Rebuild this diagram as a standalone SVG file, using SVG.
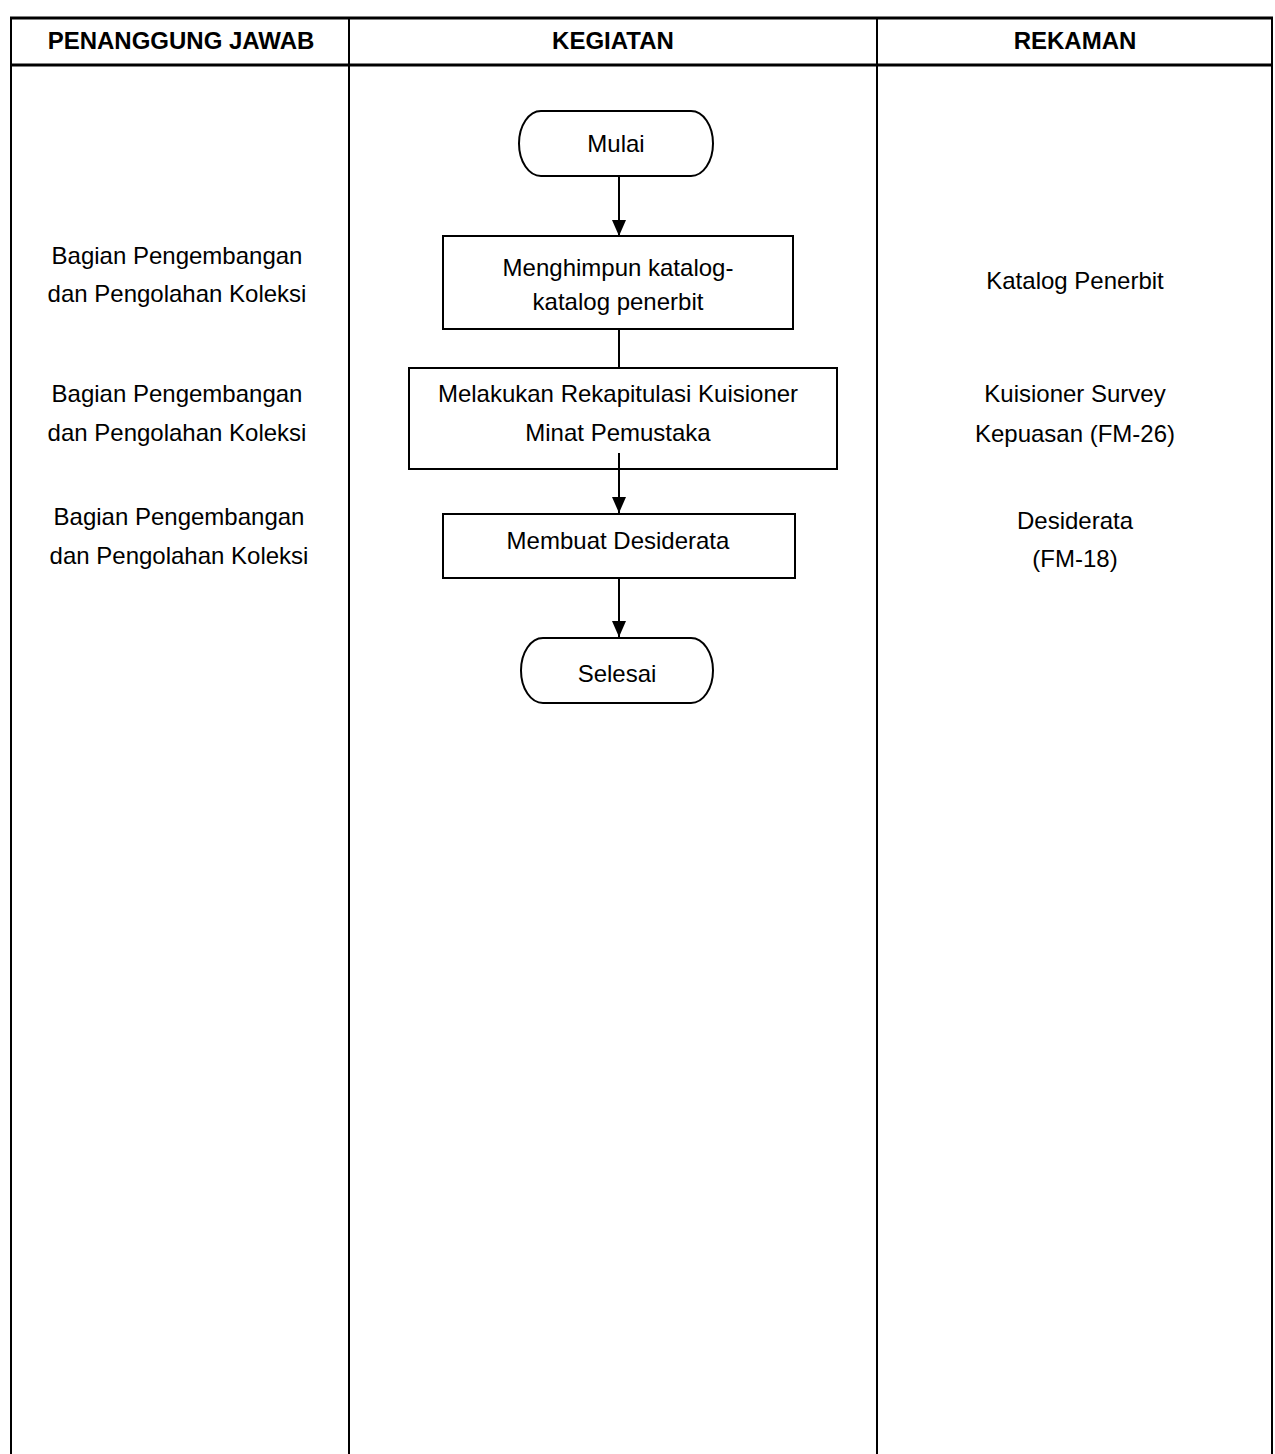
<svg xmlns="http://www.w3.org/2000/svg" width="1275" height="1454" viewBox="0 0 1275 1454">
<style>
.grid{stroke:#000;fill:none}
.hd{font-family:"Liberation Sans",Arial,sans-serif;font-weight:bold;font-size:24px;text-anchor:middle;fill:#000}
.tx{font-family:"Liberation Sans",Arial,sans-serif;font-size:24px;text-anchor:middle;fill:#000}
.shape{fill:#fff;stroke:#000;stroke-width:2}
.conn{stroke:#000;stroke-width:2;fill:none}
</style>
<defs>
<marker id="arr" viewBox="0 0 16 14" refX="16" refY="7" markerWidth="16" markerHeight="14" markerUnits="userSpaceOnUse" orient="auto">
<path d="M0,0 L16,7 L0,14 Z" fill="#000"/>
</marker>
</defs>
<rect width="1275" height="1454" fill="#fff"/>
<g id="table">
<line class="grid" x1="10" y1="18" x2="1273" y2="18" stroke-width="3"/>
<line class="grid" x1="10" y1="65" x2="1273" y2="65" stroke-width="3"/>
<line class="grid" x1="11" y1="17" x2="11" y2="1454" stroke-width="2"/>
<line class="grid" x1="349" y1="17" x2="349" y2="1454" stroke-width="2"/>
<line class="grid" x1="877" y1="17" x2="877" y2="1454" stroke-width="2"/>
<line class="grid" x1="1272" y1="17" x2="1272" y2="1454" stroke-width="2"/>
<text class="hd" x="181" y="49">PENANGGUNG JAWAB</text>
<text class="hd" x="613" y="49">KEGIATAN</text>
<text class="hd" x="1075" y="49">REKAMAN</text>
</g>
<g id="connectors">
<line class="conn" x1="619" y1="176" x2="619" y2="236" marker-end="url(#arr)"/>
<line class="conn" x1="619" y1="329" x2="619" y2="368"/>
<line class="conn" x1="619" y1="453" x2="619" y2="513" marker-end="url(#arr)"/>
<line class="conn" x1="619" y1="578" x2="619" y2="637" stroke-width="3" marker-end="url(#arr)"/>
</g>
<g id="mulai">
<path class="shape" stroke-width="1.5" d="M541,111 L691,111 A22,32.5 0 0 1 691,176 L541,176 A22,32.5 0 0 1 541,111 Z"/>
<text class="tx" x="616" y="152">Mulai</text>
</g>
<g id="menghimpun">
<rect class="shape" x="443" y="236" width="350" height="93"/>
<text class="tx" x="618" y="276">Menghimpun katalog-</text>
<text class="tx" x="618" y="310">katalog penerbit</text>
</g>
<g id="rekapitulasi">
<rect class="shape" x="409" y="368" width="428" height="101"/>
<text class="tx" x="618" y="402">Melakukan Rekapitulasi Kuisioner</text>
<text class="tx" x="618" y="441">Minat Pemustaka</text>
<line class="conn" x1="619" y1="453" x2="619" y2="469"/>
</g>
<g id="desiderata">
<rect class="shape" x="443" y="514" width="352" height="64"/>
<text class="tx" x="618" y="549">Membuat Desiderata</text>
</g>
<g id="selesai">
<path class="shape" stroke-width="1.5" d="M543,638 L691,638 A22,32.5 0 0 1 691,703 L543,703 A22,32.5 0 0 1 543,638 Z"/>
<text class="tx" x="617" y="682">Selesai</text>
</g>
<g id="pj1">
<text class="tx" x="177" y="264">Bagian Pengembangan</text>
<text class="tx" x="177" y="302">dan Pengolahan Koleksi</text>
</g>
<g id="pj2">
<text class="tx" x="177" y="402">Bagian Pengembangan</text>
<text class="tx" x="177" y="441">dan Pengolahan Koleksi</text>
</g>
<g id="pj3">
<text class="tx" x="179" y="525">Bagian Pengembangan</text>
<text class="tx" x="179" y="564">dan Pengolahan Koleksi</text>
</g>
<g id="rk1">
<text class="tx" x="1075" y="289">Katalog Penerbit</text>
</g>
<g id="rk2">
<text class="tx" x="1075" y="402">Kuisioner Survey</text>
<text class="tx" x="1075" y="442">Kepuasan (FM-26)</text>
</g>
<g id="rk3">
<text class="tx" x="1075" y="529">Desiderata</text>
<text class="tx" x="1075" y="567">(FM-18)</text>
</g>
</svg>
